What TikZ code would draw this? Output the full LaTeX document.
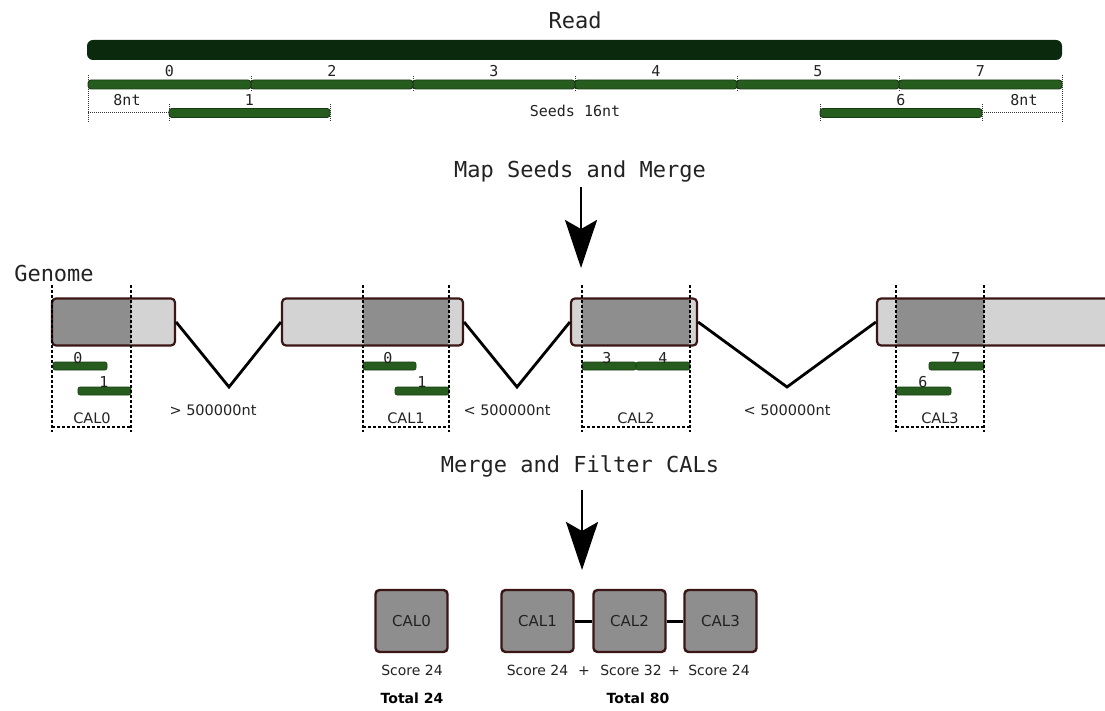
\documentclass[tikz,border=0pt]{standalone}
\usepackage{fontspec}
\setmainfont{DejaVu Sans}
\newfontfamily\monof{DejaVu Sans Mono}
\usetikzlibrary{arrows.meta}
\definecolor{readc}{HTML}{0B2A0D}
\definecolor{seedc}{HTML}{275C1F}
\definecolor{seedo}{HTML}{163A12}
\definecolor{gdark}{HTML}{8E8E8E}
\definecolor{glight}{HTML}{D3D3D3}
\definecolor{brn}{HTML}{3A1616}
\definecolor{txt}{HTML}{222222}
\begin{document}
\begin{tikzpicture}[x=1pt,y=-1pt,
  seedbar/.style={fill=seedc,draw=seedo,line width=0.9pt,rounded corners=3pt},
  gseed/.style={fill=seedc,draw=seedo,line width=0.6pt,rounded corners=2pt},
  lbl/.style={font=\fontsize{15}{17}\monof,text=txt,inner sep=0pt,anchor=base},
  title/.style={font=\fontsize{22}{26}\monof,text=txt,inner sep=0pt,anchor=base},
  sans/.style={font=\fontsize{14.5}{17}\selectfont,text=txt,inner sep=0pt,anchor=base},
  score/.style={font=\fontsize{14}{17}\selectfont,text=txt,inner sep=0pt,anchor=base},
  bsans/.style={font=\fontsize{14}{17}\bfseries,inner sep=0pt,anchor=base},
  dotl/.style={densely dotted,line width=1pt,black!80},
  caldash/.style={dash pattern=on 3pt off 2pt,line width=1.6pt},
  gbox/.style={draw=brn,line width=2.2pt,fill=glight,rounded corners=4pt,inner sep=0pt,minimum height=47pt},
  darkpart/.style 2 args={path picture={\fill[gdark] ([xshift=#1]path picture bounding box.north west) rectangle ([xshift=#2]path picture bounding box.south west);}},
  vline/.style={line width=2.8pt,line join=miter},
  bigarrow/.style={line width=2.5pt,-{Stealth[length=48pt,width=32pt,inset=9pt]}},
  calbox/.style={draw=brn,line width=2.4pt,fill=gdark,rounded corners=4pt,minimum width=72pt,minimum height=62pt,inner sep=0pt,text=txt,font=\fontsize{15}{17}\selectfont},
]
\useasboundingbox (0,0) rectangle (1105,711);

% ---- Read ----
\node[title] (readlbl) at (575,29) {Read};
\fill[readc,rounded corners=6pt] (87,40) rectangle (1062,60);

% seeds row 1
\foreach \a/\b/\n [count=\i] in {88/251/0,251/413/2,413/575/3,575/737/4,737/899/5,899/1062/7}{
  \draw[seedbar] (\a,80) rectangle (\b,89);
  \node[lbl] (s\n) at ({(\a+\b)/2},77) {\n};
}
\foreach \x in {251,413,575,737,899}{\draw[dotl] (\x,76) -- (\x,92);}
\draw[dotl] (88,75) -- (88,122);
\draw[dotl] (1062,75) -- (1062,122);
% row 2
\draw[seedbar] (169,108.5) rectangle (330,117.5);
\node[lbl] (s1) at (249.5,106) {1};
\draw[seedbar] (820,108.5) rectangle (982,117.5);
\node[lbl] (s6) at (901,106) {6};
\foreach \x in {169,330,820,982}{\draw[dotl] (\x,104) -- (\x,122);}
\draw[dotl] (88,113) -- (169,113);
\draw[dotl] (982,113) -- (1062,113);
\node[lbl] (nt1) at (127,106) {8nt};
\node[lbl] (nt2) at (1024,106) {8nt};
\node[lbl] (seeds) at (575,117) {Seeds 16nt};

% ---- Map Seeds and Merge ----
\node[title] (t1) at (580,178) {Map Seeds and Merge};
\coordinate (a1s) at (581,187);
\coordinate (a1e) at (581,268);
\draw[bigarrow] (a1s) -- (a1e);

% ---- Genome ----
\node[title] (genome) at (54,281) {Genome};
\node[gbox,minimum width=123pt,darkpart={0pt}{79pt}] (g1) at (113.5,322) {};
\node[gbox,minimum width=181pt,darkpart={81pt}{167pt}] (g2) at (372.5,322) {};
\node[gbox,minimum width=126pt,darkpart={11pt}{119pt}] (g3) at (634,322) {};
\node[gbox,minimum width=240pt,darkpart={19pt}{107pt}] (g4) at (997,322) {};

\coordinate (v1) at (229,387);
\coordinate (v2) at (517,387);
\coordinate (v3) at (787,387);
\draw[vline] (g1.east) -- (v1) -- (g2.west);
\draw[vline] (g2.east) -- (v2) -- (g3.west);
\draw[vline] (g3.east) -- (v3) -- (g4.west);

% genome seeds
\draw[gseed] (53,362) rectangle (107,370);
\draw[gseed] (78,387) rectangle (131,395);
\draw[gseed] (363,362) rectangle (416,370);
\draw[gseed] (395,387) rectangle (449,395);
\draw[gseed] (582,362) rectangle (636,370);
\draw[gseed] (636,362) rectangle (690,370);
\draw[gseed] (929,362) rectangle (984,370);
\draw[gseed] (896,387) rectangle (951,395);
\node[lbl] (c0s0) at (78,363) {0};
\node[lbl] (c0s1) at (104,387) {1};
\node[lbl] (c1s0) at (388,363) {0};
\node[lbl] (c1s1) at (422,387) {1};
\node[lbl] (c2s3) at (607,363) {3};
\node[lbl] (c2s4) at (663,363) {4};
\node[lbl] (c3s7) at (956,363) {7};
\node[lbl] (c3s6) at (923,387) {6};

% CAL dashed frames
\foreach \a/\b in {52/131,363/449,582/690,896/984}{
  \draw[caldash] (\a,285) -- (\a,432);
  \draw[caldash] (\b,285) -- (\b,432);
  \draw[caldash] (\a,427) -- (\b,427);
}
\node[sans] (cal0) at (92,423) {CAL0};
\node[sans] (cal1) at (406,423) {CAL1};
\node[sans] (cal2) at (636,423) {CAL2};
\node[sans] (cal3) at (940,423) {CAL3};

\node[sans] (d1) at (213,415) {> 500000nt};
\node[sans] (d2) at (507,415) {< 500000nt};
\node[sans] (d3) at (787,415) {< 500000nt};

% ---- Merge and Filter CALs ----
\node[title] (t2) at (580,472) {Merge and Filter CALs};
\coordinate (a2s) at (582,490);
\coordinate (a2e) at (582,570);
\draw[bigarrow] (a2s) -- (a2e);

% ---- result boxes ----
\node[calbox] (b0) at (411.5,621) {CAL0};
\node[calbox] (b1) at (537.5,621) {CAL1};
\node[calbox] (b2) at (629.5,621) {CAL2};
\node[calbox] (b3) at (720.5,621) {CAL3};
\draw[line width=3pt] (b1) -- (b2);
\draw[line width=3pt] (b2) -- (b3);

\node[score] (sc0) at (412,675) {Score 24};
\node[score] (sc1) at (537.5,675) {Score 24};
\node[score] (p1) at (584,675) {+};
\node[score] (sc2) at (631,675) {Score 32};
\node[score] (p2) at (674,675) {+};
\node[score] (sc3) at (719,675) {Score 24};
\node[bsans] (tot0) at (412,703) {Total 24};
\node[bsans] (tot1) at (638,703) {Total 80};
\end{tikzpicture}
\end{document}
